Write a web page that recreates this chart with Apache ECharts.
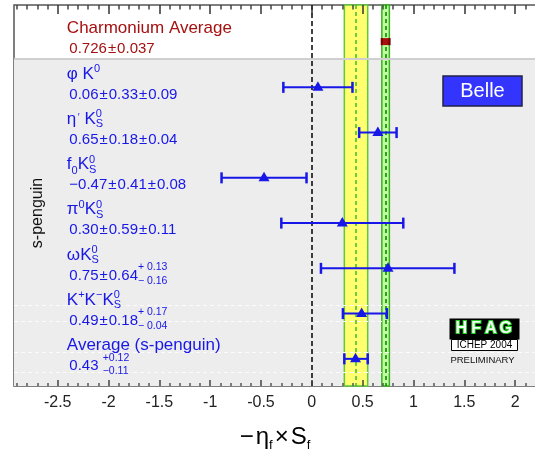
<!DOCTYPE html>
<html><head><meta charset="utf-8">
<script src="https://cdn.jsdelivr.net/npm/echarts@6/dist/echarts.min.js"></script>
<style>html,body{margin:0;padding:0;background:#fff}#c{width:535px;height:454px}</style>
</head><body><div id="c"></div>
<script>
// ---------------- data ----------------
const rows = [1, 2, 3, 4, 5, 6, 7, 8];
const central = [0.726, 0.06, 0.65, -0.47, 0.30, 0.75, 0.49, 0.43];
const lower   = [0.689, -0.28, 0.466, -0.888, -0.30, 0.09, 0.306, 0.32];
const upper   = [0.763, 0.40, 0.834, -0.052, 0.90, 1.403, 0.738, 0.55];
const centralText = ['0.726', '0.06', '0.65', '\u22120.47', '0.30', '0.75', '0.49', '0.43'];
const statText    = ['0.037', '0.33', '0.18', '0.41', '0.59', '0.64', '0.18', null];
const systUpText  = [null, '0.09', '0.04', '0.08', '0.11', '0.13', '0.17', '0.12'];
const systDnText  = [null, '0.09', '0.04', '0.08', '0.11', '0.16', '0.04', '0.11'];
const charmBand = [0.689, 0.726, 0.763];
const sPengBand = [0.32, 0.43, 0.55];
const xTickLabels = [-2.5, -2, -1.5, -1, -0.5, 0, 0.5, 1, 1.5, 2];
// names: pieces  t=text, sup / sub = raised / lowered, st = stacked [sup, sub]
const namePieces = [
  [{t: 'Charmonium Average'}],
  [{t: '\u03c6'}, {t: ' K'}, {sup: '0'}],
  [{t: '\u03b7'}, {t: '\u2032', small: true}, {t: ' K'}, {st: ['0', 'S']}],
  [{t: 'f'}, {sub: '0'}, {t: 'K'}, {st: ['0', 'S']}],
  [{t: '\u03c0'}, {sup: '0'}, {t: 'K'}, {st: ['0', 'S']}],
  [{t: '\u03c9'}, {t: 'K'}, {st: ['0', 'S']}],
  [{t: 'K'}, {sup: '+'}, {t: 'K'}, {sup: '\u2212'}, {t: 'K'}, {st: ['0', 'S']}],
  [{t: 'Average (s-penguin)'}]
];
const sectionLabel = 's-penguin';
const expLabel = 'Belle';

// ---------------- helpers ----------------
const FF = '"Liberation Sans", Arial, Helvetica, sans-serif';
const BLUE = '#1717e8';
const RED = '#a51010';
const mctx = document.createElement('canvas').getContext('2d');
function tw(t, fs, bold) { mctx.font = (bold ? 'bold ' : '') + fs + 'px ' + FF; return mctx.measureText(t).width; }
function txt(t, x, base, fs, color, bold) {
  const font = (bold ? 'bold ' : '') + fs + 'px ' + FF;
  return {type: 'text', x: x, y: base - 0.35 * fs, z: 100,
    style: {text: t, font: font, fill: color, align: 'left', verticalAlign: 'middle', textAlign: 'left', textVerticalAlign: 'middle'}};
}
function layout(pieces, x, base, color, o) {
  const out = []; let cx = x;
  for (const p of pieces) {
    if (p.st) {
      out.push(txt(p.st[0], cx, base + o.supDy, o.sfs, color));
      out.push(txt(p.st[1], cx, base + o.subDy, o.sfs, color));
      cx += Math.max(tw(p.st[0], o.sfs), tw(p.st[1], o.sfs)) + (o.stGap || 0);
    } else if (p.sup !== undefined) {
      out.push(txt(p.sup, cx, base + o.supDy, o.sfs, color));
      cx += tw(p.sup, o.sfs);
    } else if (p.sub !== undefined) {
      out.push(txt(p.sub, cx, base + o.subDy + 1, o.sfs, color));
      cx += tw(p.sub, o.sfs);
    } else if (p.small) {
      out.push(txt(p.t, cx + 1.5, base - 3, 10, color));
      cx += tw(p.t, 10) + 1.5;
    } else {
      out.push(txt(p.t, cx + (p.pre || 0), base, p.fs || o.fs, color, p.bold));
      cx += tw(p.t, p.fs || o.fs) + (p.pre || 0) + (p.post || 0);
    }
  }
  return [out, cx - x];
}
function valuePieces(i) {
  const ps = [{t: centralText[i]}];
  if (statText[i]) { ps.push({t: '\u00b1', pre: 1, post: 1}); ps.push({t: statText[i]}); }
  if (systUpText[i]) {
    if (systUpText[i] === systDnText[i]) { ps.push({t: '\u00b1', pre: 1, post: 1}); ps.push({t: systUpText[i]}); }
    else if (statText[i]) ps.push({st: ['+ ' + systUpText[i], '\u2212 ' + systDnText[i]]});
    else { ps.push({t: ' '}); ps.push({st: ['+' + systUpText[i], '\u2212' + systDnText[i]]}); }
  }
  return ps;
}

const xMin = -2.93, xMax = 2.31, yMin = 0.18, yMax = 8.6;
const minorTicks = [];
for (let k = -29; k <= 23; k++) if (k % 5 !== 0) minorTicks.push(k / 10);

const barData = rows.map((r, i) => [r, central[i], lower[i], upper[i]]);
const labelData = rows.map(r => [-2.41, r]);

function renderBar(params, api) {
  const r = api.value(0);
  const pc = api.coord([api.value(1), r]);
  const pl = api.coord([api.value(2), r]);
  const ph = api.coord([api.value(3), r]);
  const y = pc[1];
  if (params.dataIndex === 0) {
    return {type: 'group', children: [
      {type: 'rect', shape: {x: pl[0] - 1, y: y - 4, width: ph[0] - pl[0] + 2, height: 7}, style: {fill: RED}},
      {type: 'line', shape: {x1: pl[0], y1: y - 4, x2: pl[0], y2: y + 3}, style: {stroke: '#7a0000', lineWidth: 2}},
      {type: 'line', shape: {x1: ph[0], y1: y - 4, x2: ph[0], y2: y + 3}, style: {stroke: '#7a0000', lineWidth: 2}}
    ]};
  }
  const cap = 5.5;
  return {type: 'group', children: [
    {type: 'line', shape: {x1: pl[0], y1: y, x2: ph[0], y2: y}, style: {stroke: BLUE, lineWidth: 2}},
    {type: 'line', shape: {x1: pl[0], y1: y - cap, x2: pl[0], y2: y + cap}, style: {stroke: BLUE, lineWidth: 2.5}},
    {type: 'line', shape: {x1: ph[0], y1: y - cap, x2: ph[0], y2: y + cap}, style: {stroke: BLUE, lineWidth: 2.5}},
    {type: 'polygon', shape: {points: [[pc[0], y - 6], [pc[0] - 5.5, y + 3.5], [pc[0] + 5.5, y + 3.5]]}, style: {fill: BLUE}}
  ]};
}
function renderLabel(params, api) {
  const i = params.dataIndex;
  const p = api.coord([api.value(0), api.value(1)]);
  const color = i === 0 ? RED : BLUE;
  const nameBase = p[1] - 7.5, valBase = p[1] + 12.5;
  const [n] = layout(namePieces[i], p[0], nameBase, color, {fs: 17, sfs: 11, supDy: -7, subDy: 3});
  const [v] = layout(valuePieces(i), p[0] + 2.5, valBase, color, {fs: 15, sfs: 10.5, supDy: -10, subDy: 3.5});
  return {type: 'group', children: n.concat(v)};
}

// axis title
const titleParts = [{t: '\u2212', fs: 24}, {t: '\u03b7', fs: 24, pre: 2}, {sub: 'f'}, {t: '\u00d7', fs: 24, pre: 2, post: 2}, {t: 'S', fs: 24}, {sub: 'f'}];
const tOpt = {fs: 24, sfs: 13, supDy: -10, subDy: 3};
const tW = layout(titleParts, 0, 0, '#000', tOpt)[1];
const titleEls = layout(titleParts, 275 - tW / 2, 446, '#000', tOpt)[0];

const hfag = ['H', 'F', 'A', 'G'];
const hfagX = [461.2, 476.2, 490.8, 505.8];
const C = {align: 'center', verticalAlign: 'middle', textAlign: 'center', textVerticalAlign: 'middle'};

const chart = echarts.init(document.getElementById('c'), null, {renderer: 'canvas'});
const xBase = {type: 'value', min: xMin, max: xMax, gridIndex: 0, axisLine: {show: false}, splitLine: {show: false}, z: 10};
function tickAxis(pos, values, len, color, label) {
  return Object.assign({}, xBase, {position: pos,
    axisTick: {show: true, inside: true, length: len, customValues: values, lineStyle: {color: color, width: 1.5}},
    axisLabel: label ? {show: true, customValues: xTickLabels, fontSize: 16, fontFamily: FF, color: '#222', margin: 9,
                        formatter: v => (v < 0 ? '-' : '') + String(Math.abs(v))}
                     : {show: false}});
}
chart.setOption({
  animation: false,
  grid: {left: 14, right: -11.6, top: 5, bottom: 68, show: true, backgroundColor: '#fff',
         borderColor: '#555', borderWidth: 1.5, containLabel: false, outerBoundsMode: 'none'},
  xAxis: [
    tickAxis('bottom', xTickLabels, 6, '#444', true),
    tickAxis('bottom', minorTicks, 3, '#555', false),
    tickAxis('top', xTickLabels, 9, '#333', false),
    tickAxis('top', minorTicks, 4.5, '#444', false)
  ],
  yAxis: {type: 'value', min: yMin, max: yMax, inverse: true, show: false, splitLine: {show: false}},
  graphic: [
    {type: 'text', x: 38, y: 213, rotation: Math.PI / 2, z: 100,
     style: Object.assign({text: sectionLabel, font: '16px ' + FF, fill: '#111'}, C)},
    {type: 'rect', z: 100, shape: {x: 443, y: 76, width: 79, height: 30}, style: {fill: '#3434ff', stroke: '#22224a', lineWidth: 1.5}},
    {type: 'text', z: 101, x: 482.5, y: 91.5, style: Object.assign({text: expLabel, font: '20px ' + FF, fill: '#fff'}, C)},
    {type: 'rect', z: 100, shape: {x: 449.5, y: 318.5, width: 70, height: 21}, style: {fill: '#000'}},
    {type: 'rect', z: 100, shape: {x: 451.5, y: 339.5, width: 66, height: 11}, style: {fill: '#fff', stroke: '#000', lineWidth: 1}},
    {type: 'text', z: 101, x: 484.5, y: 345, style: Object.assign({text: 'ICHEP 2004', font: '10px ' + FF, fill: '#000'}, C)},
    {type: 'text', z: 101, x: 482.5, y: 360, style: Object.assign({text: 'PRELIMINARY', font: '9.5px ' + FF, fill: '#111'}, C)}
  ].concat(hfag.map((h, k) => ({type: 'text', z: 101, x: hfagX[k], y: 329,
     style: Object.assign({text: h, font: 'bold 16px ' + FF, fill: '#f2fff2', stroke: '#22cc22', lineWidth: 2}, C)})))
   .concat(titleEls),
  series: [
    {type: 'line', data: [], silent: true, z: 1,
     markArea: {silent: true, itemStyle: {color: '#ededed'}, data: [[{yAxis: 1.37}, {yAxis: 8.6}]]},
     markLine: {silent: true, symbol: ['none', 'none'], label: {show: false},
       data: [
         {yAxis: 1.37, lineStyle: {color: '#cfcfcf', width: 2, type: 'solid'}},
         {yAxis: 6.81, lineStyle: {color: '#fbfbfb', width: 1, type: [4, 3]}},
         {yAxis: 7.16, lineStyle: {color: '#fbfbfb', width: 1, type: [4, 3]}},
         {yAxis: 7.85, lineStyle: {color: '#fbfbfb', width: 1, type: [4, 3]}},
         {yAxis: 8.29, lineStyle: {color: '#fbfbfb', width: 1, type: [4, 3]}}
       ]}},
    {type: 'line', data: [], silent: true, z: 2,
     markArea: {silent: true, data: [
       [{xAxis: sPengBand[0], itemStyle: {color: '#ffff70', borderColor: '#62c83c', borderWidth: 1.5}}, {xAxis: sPengBand[2]}],
       [{xAxis: charmBand[0], itemStyle: {color: '#c0ffa0', borderColor: '#3cb022', borderWidth: 1.5}}, {xAxis: charmBand[2]}]
     ]}},
    {type: 'line', data: [], silent: true, z: 3,
     markLine: {silent: true, symbol: ['none', 'none'], label: {show: false},
       data: [
         {xAxis: sPengBand[1], lineStyle: {color: '#38c030', width: 1.5, type: [4, 3]}},
         {xAxis: charmBand[1], lineStyle: {color: '#1f9a10', width: 1.8, type: [4, 3]}},
         {xAxis: 0, lineStyle: {color: '#000', width: 1.5, type: [5, 3]}}
       ]}},
    {type: 'custom', name: 'bars', z: 5, data: barData, encode: {x: [1, 2, 3], y: 0}, renderItem: renderBar, clip: false},
    {type: 'custom', name: 'labels', z: 6, data: labelData, encode: {x: 0, y: 1}, renderItem: renderLabel, clip: false}
  ]
});
</script>
</body></html>
